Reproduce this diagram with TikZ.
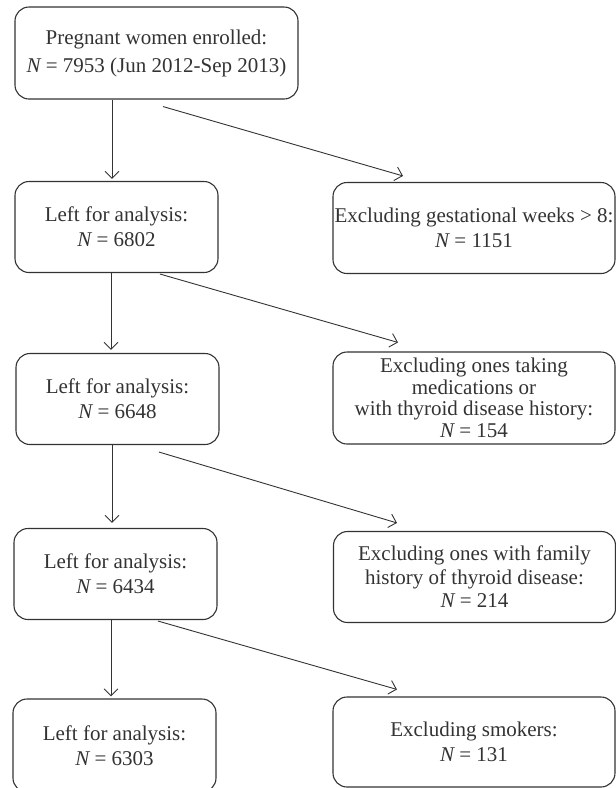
\documentclass[tikz,border=0pt]{standalone}
\usepackage{fontspec}
\setmainfont{Liberation Serif}
\usetikzlibrary{arrows.meta}

\definecolor{inkgray}{HTML}{333333}

\tikzset{
  stage/.style={draw=inkgray, line width=1.1pt, rounded corners=14pt, fill=white,
    align=center, inner sep=0pt, text=inkgray,
    font=\fontsize{21}{25}\selectfont},
  leftbox/.style={stage, minimum width=203pt, minimum height=91pt},
  exclbox/.style={stage, minimum width=282pt, minimum height=91pt},
  flow/.style={draw=inkgray, line width=0.9pt, -{Straight Barb[length=7pt, width=14pt]}}
}

\begin{document}
\begin{tikzpicture}[x=1pt, y=-1pt]
        \useasboundingbox (0,0) rectangle (616,788);

        % Nodes
        \node[stage, minimum width=283pt, minimum height=92pt,
              font=\fontsize{21}{28}\selectfont] (enrolled) at (156.5,53)
              {Pregnant women enrolled:\\{\itshape N} = 7953 (Jun 2012-Sep 2013)};
        \node[leftbox] (left1) at (116.5,227) {Left for analysis:\\{\itshape N} = 6802};
        \node[leftbox] (left2) at (117.5,399) {Left for analysis:\\{\itshape N} = 6648};
        \node[leftbox] (left3) at (115.5,574) {Left for analysis:\\{\itshape N} = 6434};
        \node[leftbox, minimum height=93pt] (left4) at (114.5,745.5) {Left for analysis:\\{\itshape N} = 6303};

        \node[exclbox] (excl1) at (474,228) {Excluding gestational weeks {>} 8:\\{\itshape N} = 1151};
        \node[exclbox, minimum height=92pt, font=\fontsize{21}{21.5}\selectfont] (excl2) at (474,398)
              {Excluding ones taking\\medications or\\with thyroid disease history:\\{\itshape N} = 154};
        \node[exclbox, font=\fontsize{21}{23.5}\selectfont] (excl3) at (474.5,577)
              {Excluding ones with family\\history of thyroid disease:\\{\itshape N} = 214};
        \node[exclbox, minimum height=90pt] (excl4) at (474,742) {Excluding smokers:\\{\itshape N} = 131};

        % Edges down
        \draw[flow] ([xshift=-44.5pt]enrolled.south) -- ([xshift=-4.5pt, yshift=2pt]left1.north);
        \draw[flow] ([xshift=-5.5pt]left1.south) -- ([xshift=-6.5pt, yshift=3pt]left2.north);
        \draw[flow] ([xshift=-5.5pt]left2.south) -- ([xshift=-3.5pt, yshift=5pt]left3.north);
        \draw[flow] ([xshift=-4.5pt]left3.south) -- ([xshift=-3.5pt, yshift=2pt]left4.north);

        % Edges to exclusions
        \draw[flow] ([xshift=6.5pt, yshift=-7pt]enrolled.south) -- ([xshift=-71pt, yshift=6pt]excl1.north);
        \draw[flow] ([xshift=43.5pt, yshift=-1pt]left1.south) -- ([xshift=-76pt, yshift=9pt]excl2.north);
        \draw[flow] ([xshift=41.5pt, yshift=-7pt]left2.south) -- ([xshift=-77.5pt, yshift=8pt]excl3.north);
        \draw[flow] ([xshift=42.5pt, yshift=-1pt]left3.south) -- ([xshift=-77pt, yshift=7pt]excl4.north);
    \end{tikzpicture}
\end{document}
